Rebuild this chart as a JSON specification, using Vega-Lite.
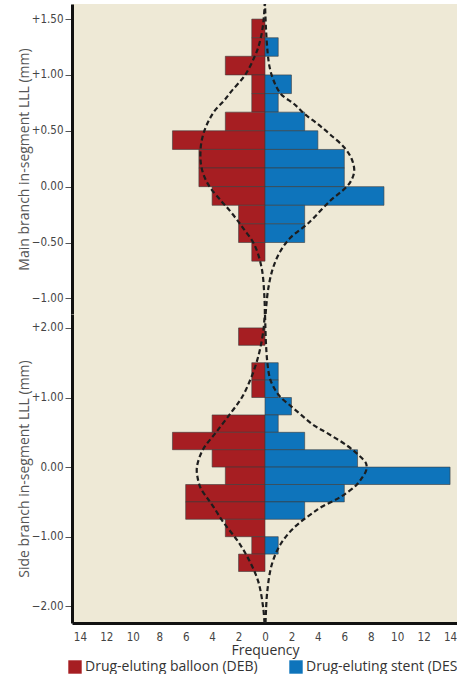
{
  "$schema": "https://vega.github.io/schema/vega-lite/v6.json",
  "padding": {"left": 17, "top": 4, "right": 0, "bottom": 0},
  "background": "#ffffff",
  "spacing": 0,
  "config": {
    "view": {"fill": "#EEE9D6", "stroke": null},
    "axis": {"grid": false, "labelOverlap": false},
    "concat": {"spacing": 0}
  },
  "datasets": {
    "mainBars": [
      {"group": "Drug-eluting balloon (DEB)", "lo": 1.333, "hi": 1.5, "freq": -1},
      {"group": "Drug-eluting balloon (DEB)", "lo": 1.167, "hi": 1.333, "freq": -1},
      {"group": "Drug-eluting balloon (DEB)", "lo": 1.0, "hi": 1.167, "freq": -3},
      {"group": "Drug-eluting balloon (DEB)", "lo": 0.833, "hi": 1.0, "freq": -1},
      {"group": "Drug-eluting balloon (DEB)", "lo": 0.667, "hi": 0.833, "freq": -1},
      {"group": "Drug-eluting balloon (DEB)", "lo": 0.5, "hi": 0.667, "freq": -3},
      {"group": "Drug-eluting balloon (DEB)", "lo": 0.333, "hi": 0.5, "freq": -7},
      {"group": "Drug-eluting balloon (DEB)", "lo": 0.167, "hi": 0.333, "freq": -5},
      {"group": "Drug-eluting balloon (DEB)", "lo": 0.0, "hi": 0.167, "freq": -5},
      {"group": "Drug-eluting balloon (DEB)", "lo": -0.167, "hi": 0.0, "freq": -4},
      {"group": "Drug-eluting balloon (DEB)", "lo": -0.333, "hi": -0.167, "freq": -2},
      {"group": "Drug-eluting balloon (DEB)", "lo": -0.5, "hi": -0.333, "freq": -2},
      {"group": "Drug-eluting balloon (DEB)", "lo": -0.667, "hi": -0.5, "freq": -1},
      {"group": "Drug-eluting stent (DES)", "lo": 1.167, "hi": 1.333, "freq": 1},
      {"group": "Drug-eluting stent (DES)", "lo": 0.833, "hi": 1.0, "freq": 2},
      {"group": "Drug-eluting stent (DES)", "lo": 0.667, "hi": 0.833, "freq": 1},
      {"group": "Drug-eluting stent (DES)", "lo": 0.5, "hi": 0.667, "freq": 3},
      {"group": "Drug-eluting stent (DES)", "lo": 0.333, "hi": 0.5, "freq": 4},
      {"group": "Drug-eluting stent (DES)", "lo": 0.167, "hi": 0.333, "freq": 6},
      {"group": "Drug-eluting stent (DES)", "lo": 0.0, "hi": 0.167, "freq": 6},
      {"group": "Drug-eluting stent (DES)", "lo": -0.167, "hi": 0.0, "freq": 9},
      {"group": "Drug-eluting stent (DES)", "lo": -0.333, "hi": -0.167, "freq": 3},
      {"group": "Drug-eluting stent (DES)", "lo": -0.5, "hi": -0.333, "freq": 3}
    ],
    "sideBars": [
      {"group": "Drug-eluting balloon (DEB)", "lo": 1.75, "hi": 2.0, "freq": -2},
      {"group": "Drug-eluting balloon (DEB)", "lo": 1.25, "hi": 1.5, "freq": -1},
      {"group": "Drug-eluting balloon (DEB)", "lo": 1.0, "hi": 1.25, "freq": -1},
      {"group": "Drug-eluting balloon (DEB)", "lo": 0.5, "hi": 0.75, "freq": -4},
      {"group": "Drug-eluting balloon (DEB)", "lo": 0.25, "hi": 0.5, "freq": -7},
      {"group": "Drug-eluting balloon (DEB)", "lo": 0.0, "hi": 0.25, "freq": -4},
      {"group": "Drug-eluting balloon (DEB)", "lo": -0.25, "hi": 0.0, "freq": -3},
      {"group": "Drug-eluting balloon (DEB)", "lo": -0.5, "hi": -0.25, "freq": -6},
      {"group": "Drug-eluting balloon (DEB)", "lo": -0.75, "hi": -0.5, "freq": -6},
      {"group": "Drug-eluting balloon (DEB)", "lo": -1.0, "hi": -0.75, "freq": -3},
      {"group": "Drug-eluting balloon (DEB)", "lo": -1.25, "hi": -1.0, "freq": -1},
      {"group": "Drug-eluting balloon (DEB)", "lo": -1.5, "hi": -1.25, "freq": -2},
      {"group": "Drug-eluting stent (DES)", "lo": 1.25, "hi": 1.5, "freq": 1},
      {"group": "Drug-eluting stent (DES)", "lo": 1.0, "hi": 1.25, "freq": 1},
      {"group": "Drug-eluting stent (DES)", "lo": 0.75, "hi": 1.0, "freq": 2},
      {"group": "Drug-eluting stent (DES)", "lo": 0.5, "hi": 0.75, "freq": 1},
      {"group": "Drug-eluting stent (DES)", "lo": 0.25, "hi": 0.5, "freq": 3},
      {"group": "Drug-eluting stent (DES)", "lo": 0.0, "hi": 0.25, "freq": 7},
      {"group": "Drug-eluting stent (DES)", "lo": -0.25, "hi": 0.0, "freq": 14},
      {"group": "Drug-eluting stent (DES)", "lo": -0.5, "hi": -0.25, "freq": 6},
      {"group": "Drug-eluting stent (DES)", "lo": -0.75, "hi": -0.5, "freq": 3},
      {"group": "Drug-eluting stent (DES)", "lo": -1.25, "hi": -1.0, "freq": 1}
    ],
    "mainCurve": [
      {"group": "DEB", "lm": 1.635, "f": -0.02},
      {"group": "DEB", "lm": 1.5, "f": -0.1},
      {"group": "DEB", "lm": 1.37, "f": -0.25},
      {"group": "DEB", "lm": 1.25, "f": -0.5},
      {"group": "DEB", "lm": 1.16, "f": -0.8},
      {"group": "DEB", "lm": 1.0, "f": -1.5},
      {"group": "DEB", "lm": 0.86, "f": -2.5},
      {"group": "DEB", "lm": 0.77, "f": -3.1},
      {"group": "DEB", "lm": 0.68, "f": -3.8},
      {"group": "DEB", "lm": 0.58, "f": -4.3},
      {"group": "DEB", "lm": 0.47, "f": -4.67},
      {"group": "DEB", "lm": 0.34, "f": -4.87},
      {"group": "DEB", "lm": 0.17, "f": -4.8},
      {"group": "DEB", "lm": 0.02, "f": -4.3},
      {"group": "DEB", "lm": -0.13, "f": -3.3},
      {"group": "DEB", "lm": -0.21, "f": -2.7},
      {"group": "DEB", "lm": -0.3, "f": -2.1},
      {"group": "DEB", "lm": -0.38, "f": -1.6},
      {"group": "DEB", "lm": -0.52, "f": -0.8},
      {"group": "DEB", "lm": -0.73, "f": -0.25},
      {"group": "DEB", "lm": -1.0, "f": -0.04},
      {"group": "DEB", "lm": -1.14, "f": -0.01},
      {"group": "DES", "lm": 1.635, "f": 0.0},
      {"group": "DES", "lm": 1.4, "f": 0.08},
      {"group": "DES", "lm": 1.2, "f": 0.2},
      {"group": "DES", "lm": 1.07, "f": 0.35},
      {"group": "DES", "lm": 0.95, "f": 0.65},
      {"group": "DES", "lm": 0.83, "f": 1.2},
      {"group": "DES", "lm": 0.74, "f": 2.2},
      {"group": "DES", "lm": 0.65, "f": 3.0},
      {"group": "DES", "lm": 0.56, "f": 4.0},
      {"group": "DES", "lm": 0.47, "f": 4.9},
      {"group": "DES", "lm": 0.35, "f": 6.0},
      {"group": "DES", "lm": 0.25, "f": 6.55},
      {"group": "DES", "lm": 0.14, "f": 6.75},
      {"group": "DES", "lm": 0.05, "f": 6.5},
      {"group": "DES", "lm": -0.01, "f": 6.1},
      {"group": "DES", "lm": -0.13, "f": 4.9},
      {"group": "DES", "lm": -0.29, "f": 3.6},
      {"group": "DES", "lm": -0.34, "f": 3.15},
      {"group": "DES", "lm": -0.46, "f": 1.9},
      {"group": "DES", "lm": -0.58, "f": 1.15},
      {"group": "DES", "lm": -0.73, "f": 0.6},
      {"group": "DES", "lm": -0.91, "f": 0.25},
      {"group": "DES", "lm": -1.09, "f": 0.08},
      {"group": "DES", "lm": -1.14, "f": 0.05}
    ],
    "sideCurve": [
      {"group": "DEB", "lm": 2.2, "f": -0.02},
      {"group": "DEB", "lm": 2.0, "f": -0.1},
      {"group": "DEB", "lm": 1.76, "f": -0.3},
      {"group": "DEB", "lm": 1.51, "f": -0.63},
      {"group": "DEB", "lm": 1.26, "f": -1.1},
      {"group": "DEB", "lm": 1.0, "f": -1.75},
      {"group": "DEB", "lm": 0.8, "f": -2.5},
      {"group": "DEB", "lm": 0.5, "f": -3.7},
      {"group": "DEB", "lm": 0.25, "f": -4.7},
      {"group": "DEB", "lm": 0.0, "f": -5.15},
      {"group": "DEB", "lm": -0.15, "f": -5.1},
      {"group": "DEB", "lm": -0.31, "f": -4.85},
      {"group": "DEB", "lm": -0.45, "f": -4.35},
      {"group": "DEB", "lm": -0.57, "f": -3.9},
      {"group": "DEB", "lm": -0.79, "f": -3.16},
      {"group": "DEB", "lm": -1.08, "f": -2.0},
      {"group": "DEB", "lm": -1.36, "f": -1.14},
      {"group": "DEB", "lm": -1.65, "f": -0.5},
      {"group": "DEB", "lm": -2.03, "f": -0.13},
      {"group": "DEB", "lm": -2.24, "f": -0.04},
      {"group": "DES", "lm": 2.2, "f": 0.0},
      {"group": "DES", "lm": 2.0, "f": 0.03},
      {"group": "DES", "lm": 1.75, "f": 0.08},
      {"group": "DES", "lm": 1.5, "f": 0.18},
      {"group": "DES", "lm": 1.27, "f": 0.38},
      {"group": "DES", "lm": 1.1, "f": 0.8},
      {"group": "DES", "lm": 1.0, "f": 1.2},
      {"group": "DES", "lm": 0.87, "f": 2.0},
      {"group": "DES", "lm": 0.74, "f": 2.8},
      {"group": "DES", "lm": 0.6, "f": 3.7},
      {"group": "DES", "lm": 0.5, "f": 4.6},
      {"group": "DES", "lm": 0.31, "f": 6.2},
      {"group": "DES", "lm": 0.17, "f": 7.1},
      {"group": "DES", "lm": 0.05, "f": 7.65},
      {"group": "DES", "lm": -0.05, "f": 7.65},
      {"group": "DES", "lm": -0.15, "f": 7.35},
      {"group": "DES", "lm": -0.26, "f": 6.9},
      {"group": "DES", "lm": -0.43, "f": 5.7},
      {"group": "DES", "lm": -0.57, "f": 4.3},
      {"group": "DES", "lm": -0.65, "f": 3.66},
      {"group": "DES", "lm": -0.88, "f": 2.14},
      {"group": "DES", "lm": -1.12, "f": 1.14},
      {"group": "DES", "lm": -1.41, "f": 0.5},
      {"group": "DES", "lm": -1.79, "f": 0.17},
      {"group": "DES", "lm": -2.13, "f": 0.06},
      {"group": "DES", "lm": -2.24, "f": 0.04}
    ]
  },
  "vconcat": [
    {
      "width": 386,
      "height": 310,
      "layer": [
        {
          "data": {"name": "mainBars"},
          "mark": {"type": "bar", "stroke": "#3d3d3d", "strokeWidth": 0.6, "opacity": 1},
          "encoding": {
            "x": {"field": "freq", "type": "quantitative",
                  "scale": {"domain": [-14.6, 14.6], "nice": false, "zero": false},
                  "axis": {"orient": "bottom", "labels": false, "ticks": false, "title": null,
                           "tickSize": 0, "labelPadding": 0, "minExtent": 0, "maxExtent": 0,
                           "domainColor": "#bdbdbd", "domainDash": [6, 3], "domainWidth": 1.2}},
            "x2": {"datum": 0},
            "y": {"field": "lo", "type": "quantitative",
                  "scale": {"domain": [-1.14, 1.635], "nice": false, "zero": false},
                  "axis": {"title": "Main branch in-segment LLL (mm)",
                           "values": [-1, -0.5, 0, 0.5, 1, 1.5], "tickCount": 20,
                           "labelExpr": "datum.value > 0 ? '+' + format(datum.value, '.2f') : format(datum.value, '.2f')",
                           "domainColor": "#111", "domainWidth": 3,
                           "tickColor": "#555", "tickSize": 7, "tickWidth": 1,
                           "labelFont": "Liberation Sans Narrow, DejaVu Sans Condensed, sans-serif",
                           "labelFontSize": 11.5, "labelColor": "#444", "labelPadding": 2,
                           "titleFont": "Open Sans", "titleFontSize": 14, "titleFontWeight": "normal",
                           "titleColor": "#555", "titlePadding": 0}},
            "y2": {"field": "hi"},
            "color": {"field": "group", "type": "nominal",
                      "scale": {"domain": ["Drug-eluting balloon (DEB)", "Drug-eluting stent (DES)"],
                                "range": ["#A61E22", "#0E74BB"]},
                      "legend": {"orient": "none", "legendX": -4, "legendY": 656, "direction": "horizontal",
                                 "title": null, "symbolType": "square", "symbolSize": 180,
                                 "symbolStrokeWidth": 0, "symbolOpacity": 1,
                                 "labelFont": "Open Sans", "labelFontSize": 14, "labelColor": "#333",
                                 "labelLimit": 400, "labelOffset": 3, "columnPadding": 31}}
          }
        },
        {
          "data": {"name": "mainCurve"},
          "mark": {"type": "line", "color": "#1e1e1e", "strokeWidth": 2.2, "strokeDash": [5, 3], "interpolate": "catmull-rom", "clip": true},
          "encoding": {
            "x": {"field": "f", "type": "quantitative"},
            "y": {"field": "lm", "type": "quantitative"},
            "detail": {"field": "group"},
            "order": {"field": "lm", "type": "quantitative"}
          }
        }
      ]
    },
    {
      "width": 386,
      "height": 309,
      "layer": [
        {
          "data": {"name": "sideBars"},
          "mark": {"type": "bar", "stroke": "#3d3d3d", "strokeWidth": 0.6, "opacity": 1},
          "encoding": {
            "x": {"field": "freq", "type": "quantitative",
                  "scale": {"domain": [-14.6, 14.6], "nice": false, "zero": false},
                  "axis": {"orient": "bottom", "title": "Frequency",
                           "values": [-14, -12, -10, -8, -6, -4, -2, 0, 2, 4, 6, 8, 10, 12, 14],
                           "tickCount": 30,
                           "labelExpr": "abs(datum.value)", "labelOverlap": false,
                           "ticks": false, "tickSize": 0, "labelPadding": 8,
                           "domainColor": "#111", "domainWidth": 3,
                           "labelFont": "Liberation Sans Narrow, DejaVu Sans Condensed, sans-serif",
                           "labelFontSize": 11.5, "labelColor": "#444",
                           "titleFont": "Open Sans", "titleFontSize": 14, "titleFontWeight": "normal",
                           "titleColor": "#333", "titlePadding": 1}},
            "x2": {"datum": 0},
            "y": {"field": "lo", "type": "quantitative",
                  "scale": {"domain": [-2.24, 2.2], "nice": false, "zero": false},
                  "axis": {"title": "Side branch in-segment LLL (mm)",
                           "values": [-2, -1, 0, 1, 2], "tickCount": 20,
                           "labelExpr": "datum.value > 0 ? '+' + format(datum.value, '.2f') : format(datum.value, '.2f')",
                           "domainColor": "#111", "domainWidth": 3,
                           "tickColor": "#555", "tickSize": 7, "tickWidth": 1,
                           "labelFont": "Liberation Sans Narrow, DejaVu Sans Condensed, sans-serif",
                           "labelFontSize": 11.5, "labelColor": "#444", "labelPadding": 2,
                           "titleFont": "Open Sans", "titleFontSize": 14, "titleFontWeight": "normal",
                           "titleColor": "#555", "titlePadding": 0}},
            "y2": {"field": "hi"},
            "color": {"field": "group", "type": "nominal",
                      "scale": {"domain": ["Drug-eluting balloon (DEB)", "Drug-eluting stent (DES)"],
                                "range": ["#A61E22", "#0E74BB"]},
                      "legend": {"orient": "none", "legendX": -4, "legendY": 656, "direction": "horizontal",
                                 "title": null, "symbolType": "square", "symbolSize": 180,
                                 "symbolStrokeWidth": 0, "symbolOpacity": 1,
                                 "labelFont": "Open Sans", "labelFontSize": 14, "labelColor": "#333",
                                 "labelLimit": 400, "labelOffset": 3, "columnPadding": 31}}
          }
        },
        {
          "data": {"name": "sideCurve"},
          "mark": {"type": "line", "color": "#1e1e1e", "strokeWidth": 2.2, "strokeDash": [5, 3], "interpolate": "catmull-rom", "clip": true},
          "encoding": {
            "x": {"field": "f", "type": "quantitative"},
            "y": {"field": "lm", "type": "quantitative"},
            "detail": {"field": "group"},
            "order": {"field": "lm", "type": "quantitative"}
          }
        }
      ]
    }
  ]
}
